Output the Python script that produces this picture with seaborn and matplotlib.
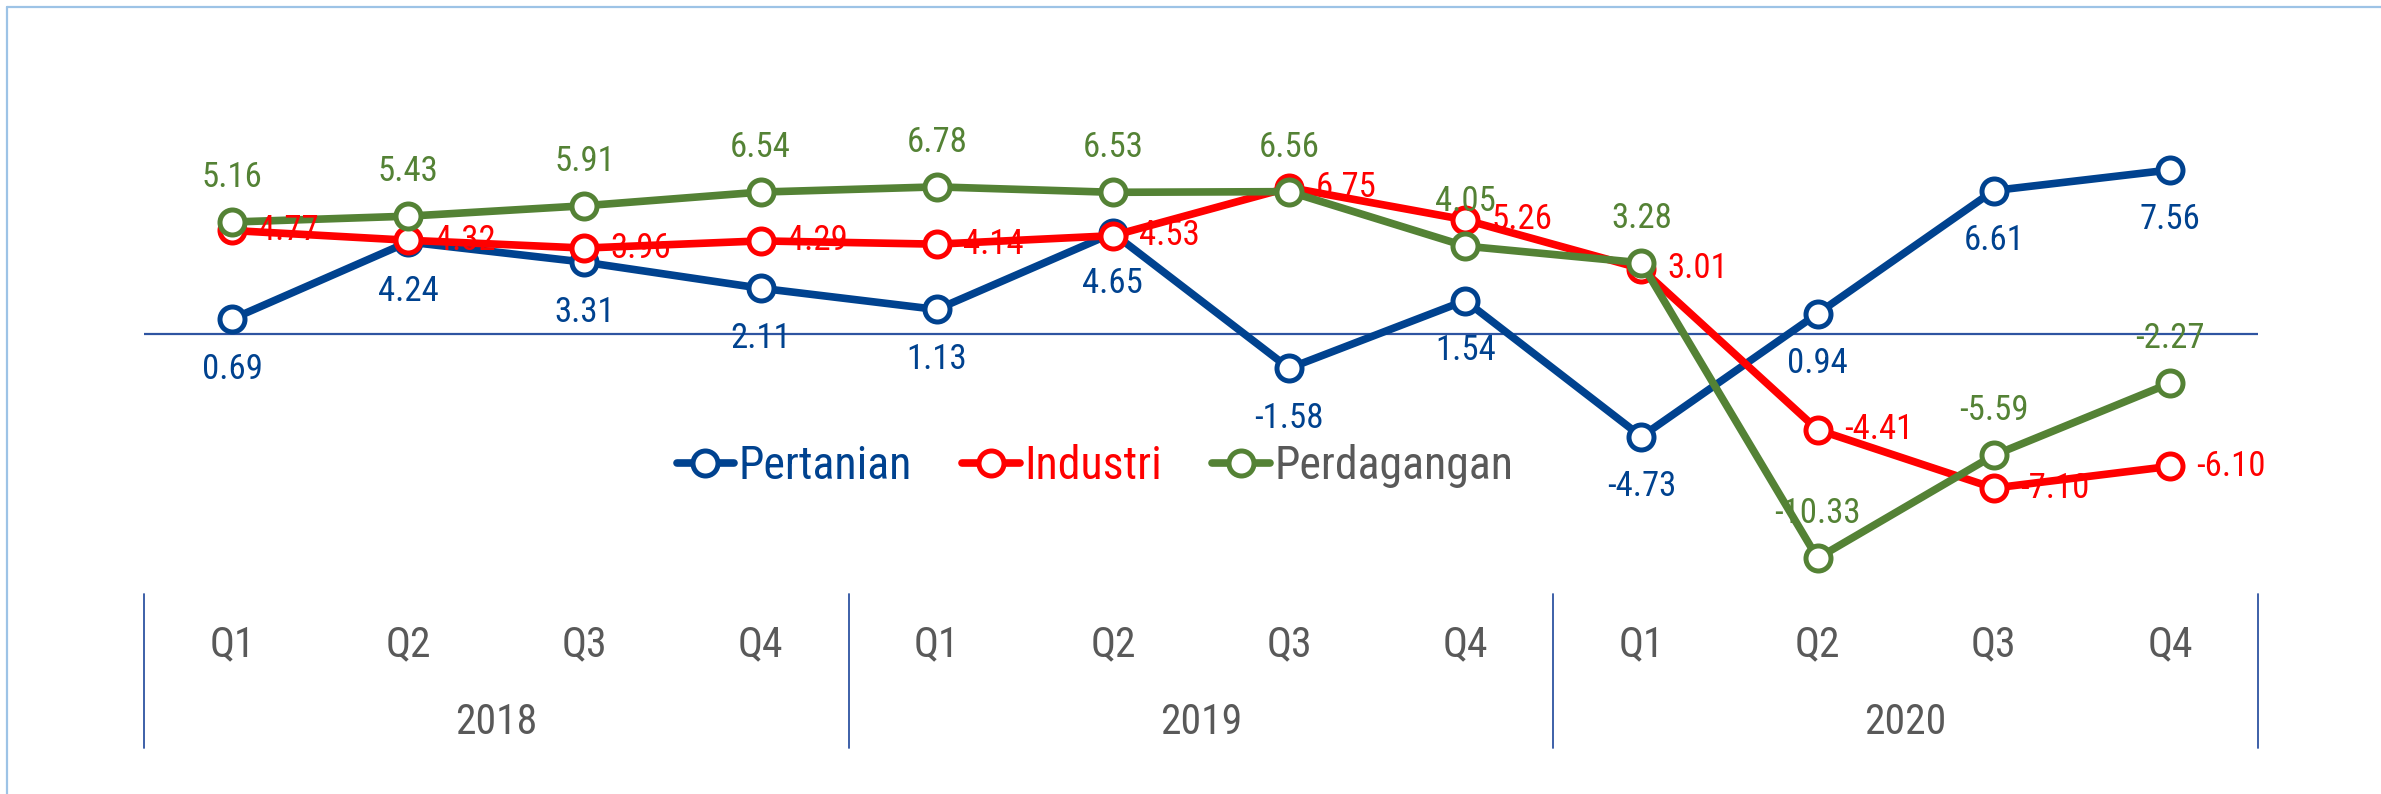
import numpy as np
import pandas as pd
import matplotlib
matplotlib.use("Agg")
import matplotlib.pyplot as plt
from matplotlib.lines import Line2D
import seaborn as sns

# ==================== data ====================
quarters = ["Q1", "Q2", "Q3", "Q4"] * 3
years = ["2018", "2019", "2020"]
pertanian = [0.69, 4.24, 3.31, 2.11, 1.13, 4.65, -1.58, 1.54, -4.73, 0.94, 6.61, 7.56]
industri = [4.77, 4.32, 3.96, 4.29, 4.14, 4.53, 6.75, 5.26, 3.01, -4.41, -7.10, -6.10]
perdagangan = [5.16, 5.43, 5.91, 6.54, 6.78, 6.53, 6.56, 4.05, 3.28, -10.33, -5.59, -2.27]

series_names = ["Pertanian", "Industri", "Perdagangan"]
colors = {"Pertanian": "#00428F", "Industri": "#FF0000", "Perdagangan": "#548235"}
legend_text_colors = ["#00428F", "#FF0000", "#595959"]

sns.set_theme(style="white")
# narrow sans (Arial Narrow look), falls back to the regular one
plt.rcParams["font.family"] = ["Liberation Sans Narrow", "Arial Narrow", "Roboto Condensed",
                               "Archivo Narrow", "Liberation Sans", "DejaVu Sans"]

W, H = 2381, 794
fig = plt.figure(figsize=(W / 100, H / 100), dpi=100)
fig.patch.set_facecolor("white")

# axes placed in pixel terms: x from 144 to 2258, y from 100 to 594 (from top)
ax_left, ax_right = 144, 2258
ax_top, ax_bot = 100, 594
ax = fig.add_axes([ax_left / W, 1 - ax_bot / H, (ax_right - ax_left) / W, (ax_bot - ax_top) / H])
ax.set_facecolor("none")

px_per_unit = 21.7
zero_px = 334
ymin = -(ax_bot - zero_px) / px_per_unit
ymax = (zero_px - ax_top) / px_per_unit

x_idx = np.arange(len(quarters))
values = {"Pertanian": pertanian, "Industri": industri, "Perdagangan": perdagangan}

for name in series_names:
    c = colors[name]
    sns.lineplot(x=x_idx, y=values[name], ax=ax, color=c, linewidth=5.5,
                 marker="o", markersize=18, markerfacecolor="white",
                 markeredgecolor=c, markeredgewidth=3.6, label=name, zorder=3)

# zero line
ax.axhline(0, color="#2E54A1", lw=1.6, zorder=1)

ax.set_xlim(-0.5, len(quarters) - 0.5)
ax.set_ylim(ymin, ymax)
ax.set_xticks([])
ax.set_yticks([])
ax.set_xlabel("")
ax.set_ylabel("")
for s in ax.spines.values():
    s.set_visible(False)

# data labels
lbl_size = 25
for i, v in enumerate(pertanian):
    ax.annotate(f"{v:.2f}", (i, v), xytext=(0, -36), textcoords="offset points",
                ha="center", va="center", color=colors["Pertanian"], fontsize=lbl_size, zorder=4)
for i, v in enumerate(perdagangan):
    ax.annotate(f"{v:.2f}", (i, v), xytext=(0, 32), textcoords="offset points",
                ha="center", va="center", color=colors["Perdagangan"], fontsize=lbl_size, zorder=4)
for i, v in enumerate(industri):
    ax.annotate(f"{v:.2f}", (i, v), xytext=(19, 0), textcoords="offset points",
                ha="left", va="center", color=colors["Industri"], fontsize=lbl_size, zorder=4)

# category axis below the plot
sep_col = "#2E54A1"
ax_h = ax_bot - ax_top
q_y = -(645 - ax_bot) / ax_h
yr_y = -(722 - ax_bot) / ax_h
sep_bot = -(748 - ax_bot) / ax_h
trans = ax.get_xaxis_transform()
for i, q in enumerate(quarters):
    ax.text(i, q_y, q, transform=trans, ha="center", va="center",
            fontsize=30, color="#595959", clip_on=False)
for k, yr in enumerate(years):
    ax.text(4 * k + 1.5, yr_y, yr, transform=trans, ha="center", va="center",
            fontsize=30, color="#595959", clip_on=False)
for xs in [-0.5, 3.5, 7.5, 11.5]:
    ax.plot([xs, xs], [0, sep_bot], transform=trans, color=sep_col, lw=1.3, clip_on=False)

# legend
leg = ax.legend(loc="center", bbox_to_anchor=(1095 / W, 1 - 466 / H), bbox_transform=fig.transFigure,
                ncol=3, frameon=False, fontsize=33, handlelength=1.25, handletextpad=0.1,
                columnspacing=1.1)
for t, c in zip(leg.get_texts(), legend_text_colors):
    t.set_color(c)

# light blue frame at left and top
frame_col = "#9DC3E6"
fig.add_artist(Line2D([7 / W, 7 / W], [0, 1 - 7 / H], color=frame_col, lw=1.6))
fig.add_artist(Line2D([7 / W, 1], [1 - 7 / H, 1 - 7 / H], color=frame_col, lw=1.6))

plt.savefig("out.png", dpi=100)
